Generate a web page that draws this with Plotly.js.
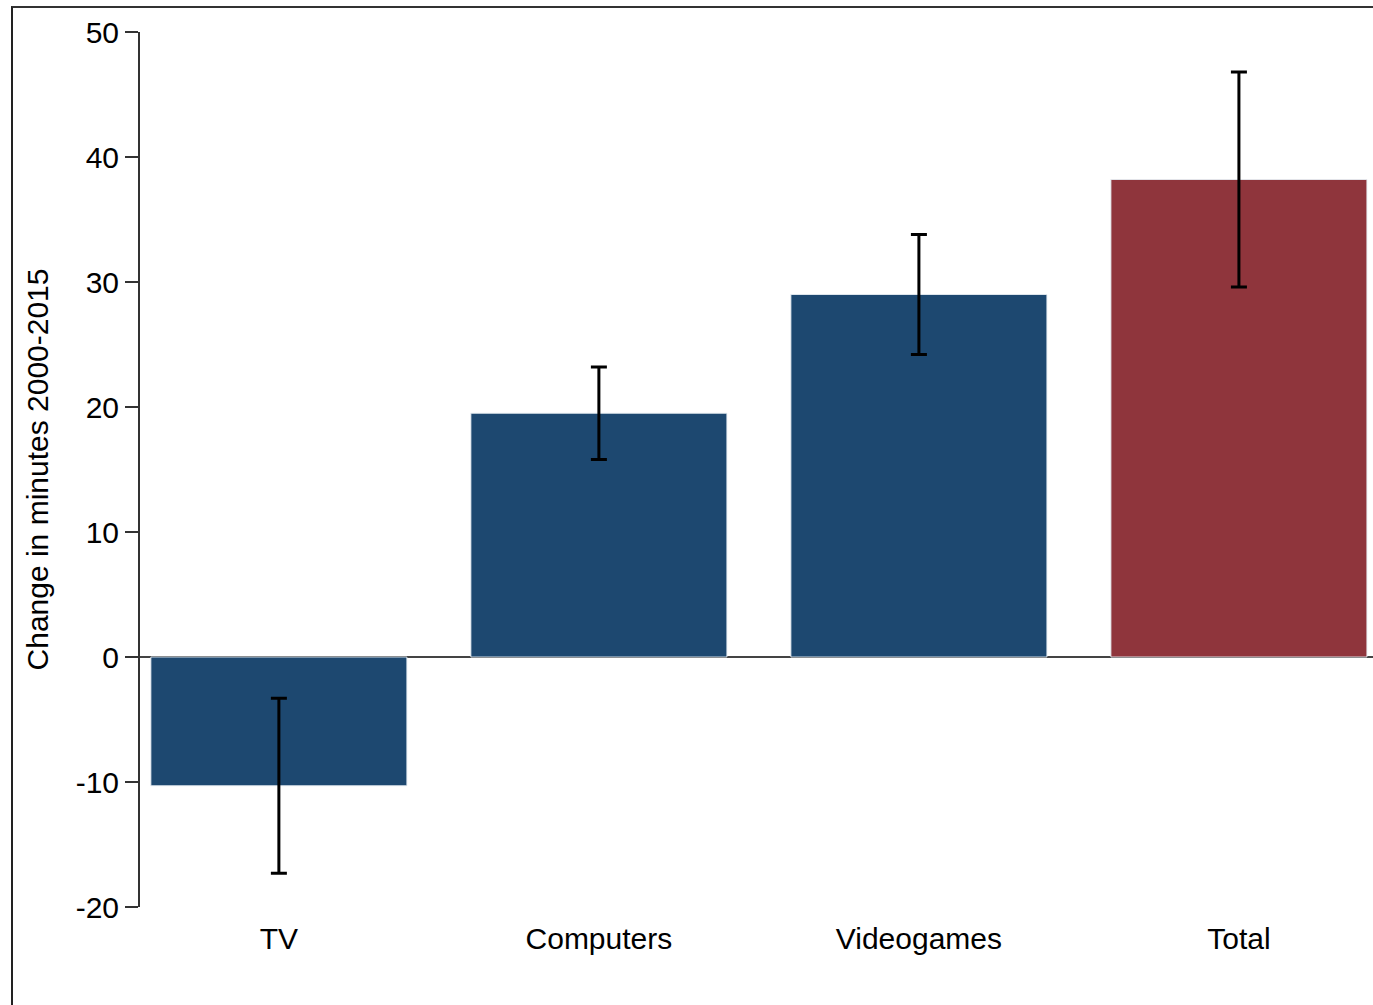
<!DOCTYPE html>
<html>
<head>
<meta charset="utf-8">
<script src="https://cdn.plot.ly/plotly-3.0.1.min.js"></script>
<style>
  html, body { margin: 0; padding: 0; background: #fff; overflow: hidden; }
  #frame { position: absolute; left: 11px; top: 6px; width: 1400px; height: 1040px;
           border-left: 2px solid #222; border-top: 2px solid #333; pointer-events: none; }
  #chart { position: absolute; left: 0; top: 0; width: 1373px; height: 1005px; }
</style>
</head>
<body>
<div id="chart"></div>
<div id="frame"></div>
<script>
const categories = ["TV", "Computers", "Videogames", "Total"];
const changeMinutes = [-10.3, 19.5, 29.0, 38.2];
const ciHalfWidth = [7.0, 3.7, 4.8, 8.6];
const barColors = ["#1d4870", "#1d4870", "#1d4870", "#8f353c"];
const yTicks = [-20, -10, 0, 10, 20, 30, 40, 50];

const trace = {
  type: "bar",
  x: categories,
  y: changeMinutes,
  width: 0.8,
  marker: { color: barColors, line: { color: "rgba(230,236,242,0.9)", width: 1 } },
  error_y: { type: "data", array: ciHalfWidth, visible: true, color: "#000", thickness: 3, width: 8 },
  hoverinfo: "x+y"
};

const layout = {
  width: 1373, height: 1005,
  margin: { l: 140, r: 0, t: 32, b: 98, pad: 0 },
  paper_bgcolor: "rgba(0,0,0,0)", plot_bgcolor: "rgba(0,0,0,0)",
  font: { family: "Liberation Sans, Arial, sans-serif", size: 30, color: "#000" },
  showlegend: false,
  xaxis: {
    type: "category",
    range: [-0.434, 3.419],
    showline: false, showgrid: false, zeroline: false,
    ticks: "outside", ticklen: 5, tickcolor: "rgba(0,0,0,0)",
    tickfont: { size: 30, color: "#000" }
  },
  yaxis: {
    range: [-20, 50],
    tickvals: yTicks,
    ticktext: yTicks.map(String),
    showline: true, linecolor: "#333", linewidth: 2,
    ticks: "outside", ticklen: 13, tickwidth: 2, tickcolor: "#333",
    showgrid: false,
    zeroline: true, zerolinecolor: "#444", zerolinewidth: 2,
    tickfont: { size: 30, color: "#000" },
    title: { text: "Change in minutes 2000-2015", font: { size: 30, color: "#000" }, standoff: 18 }
  }
};

Plotly.newPlot("chart", [trace], layout, { displayModeBar: false, staticPlot: true });
</script>
</body>
</html>
